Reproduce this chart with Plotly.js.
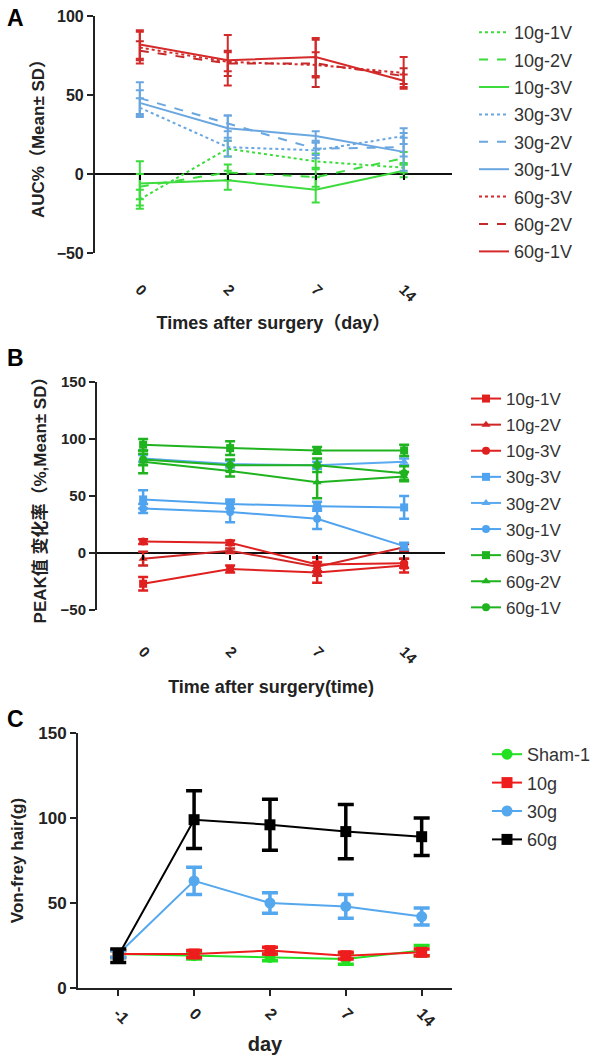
<!DOCTYPE html>
<html>
<head>
<meta charset="utf-8">
<script src="https://cdn.plot.ly/plotly-3.0.1.min.js"></script>
<style>html,body{margin:0;padding:0;background:#fff;}#chart{width:603px;height:1061px;}</style>
</head>
<body>
<div id="chart"></div>
<script>
// ---------- Panel A data (AUC%, Mean ± SD) ----------
const daysA = ['0', '2', '7', '14'];
const namesA = ['10g-1V', '10g-2V', '10g-3V', '30g-3V', '30g-2V', '30g-1V', '60g-3V', '60g-2V', '60g-1V'];
const aucMeans = [
  [-16, 16, 8, 4],
  [-8, 1, -2, 10],
  [-6, -4, -10, 2],
  [42, 17, 15, 24],
  [48, 32, 16, 17],
  [45, 29, 24, 14],
  [80, 71, 69, 64],
  [78, 70, 70, 62],
  [82, 72, 74, 59]
];
const aucSD = [
  [6, 5, 5, 3],
  [8, 5, 6, 4],
  [14, 6, 8, 4],
  [6, 6, 5, 5],
  [10, 5, 4, 6],
  [8, 8, 3, 12],
  [10, 6, 8, 10],
  [6, 8, 15, 5],
  [9, 16, 12, 4]
];

// ---------- Panel B data (PEAK change %, Mean ± SD) ----------
const daysB = ['0', '2', '7', '14'];
const namesB = ['10g-1V', '10g-2V', '10g-3V', '30g-3V', '30g-2V', '30g-1V', '60g-3V', '60g-2V', '60g-1V'];
const peakMeans = [
  [-27, -14, -17, -11],
  [-5, 2, -12, 5],
  [10, 9, -10, -9],
  [47, 43, 41, 40],
  [83, 78, 77, 80],
  [39, 36, 30, 6],
  [95, 92, 90, 90],
  [80, 72, 62, 67],
  [82, 77, 77, 70]
];
const peakSD = [
  [6, 3, 9, 6],
  [6, 2, 8, 3],
  [2, 2, 6, 4],
  [8, 4, 4, 10],
  [3, 3, 3, 3],
  [4, 9, 9, 3],
  [5, 6, 3, 5],
  [10, 5, 14, 4],
  [5, 5, 6, 6]
];

// ---------- Panel C data (Von-frey hair, g) ----------
const daysC = ['-1', '0', '2', '7', '14'];
const namesC = ['Sham-1', '10g', '30g', '60g'];
const vfMeans = [
  [20, 19, 18, 17, 22],
  [20, 20, 22, 19, 21],
  [20, 63, 50, 48, 42],
  [19, 99, 96, 92, 89]
];
const vfSD = [
  [2, 2, 2, 3, 3],
  [2, 2, 2, 2, 2],
  [2, 8, 6, 7, 5],
  [4, 17, 15, 16, 11]
];

// ---------- styles ----------
const colA = ['#3ddc3d', '#3ddc3d', '#3ddc3d', '#6aa6e0', '#6aa6e0', '#6aa6e0', '#d42a2a', '#c42a2a', '#d42a2a'];
const dashA = ['dot', 'dash', 'solid', 'dot', 'dash', 'solid', 'dot', 'dash', 'solid'];
const colB = ['#e01f1f', '#d02525', '#e01f1f', '#4fa3ef', '#5aaaf0', '#4fa3ef', '#1fb31f', '#1fb31f', '#1fb31f'];
const symB = ['square', 'triangle-up', 'circle', 'square', 'triangle-up', 'circle', 'square', 'triangle-up', 'circle'];
const colC = ['#22e022', '#ee1c1c', '#55a8ee', '#000000'];
const symC = ['circle', 'square', 'circle', 'square'];

const FONT = 'Arial, "Liberation Sans", "Noto Sans CJK SC", sans-serif';
const traces = [];

namesA.forEach((n, i) => {
  traces.push({
    type: 'scatter', mode: 'lines', name: n, x: daysA, y: aucMeans[i],
    xaxis: 'x', yaxis: 'y', legend: 'legend', legendgroup: 'A' + i,
    line: {color: colA[i], width: 2, dash: dashA[i]},
    error_y: {type: 'data', array: aucSD[i], visible: true, color: colA[i], thickness: 2, width: 4}
  });
});
namesB.forEach((n, i) => {
  traces.push({
    type: 'scatter', mode: 'lines+markers', name: n, x: daysB, y: peakMeans[i],
    xaxis: 'x2', yaxis: 'y2', legend: 'legend2', legendgroup: 'B' + i,
    line: {color: colB[i], width: 2},
    marker: {color: colB[i], symbol: symB[i], size: 8},
    error_y: {type: 'data', array: peakSD[i], visible: true, color: colB[i], thickness: 2.5, width: 5}
  });
});
namesC.forEach((n, i) => {
  traces.push({
    type: 'scatter', mode: 'lines+markers', name: n, x: daysC, y: vfMeans[i],
    xaxis: 'x3', yaxis: 'y3', legend: 'legend3', legendgroup: 'C' + i,
    line: {color: colC[i], width: 2},
    marker: {color: colC[i], symbol: symC[i], size: 11},
    error_y: {type: 'data', array: vfSD[i], visible: true, color: colC[i], thickness: 3.5, width: 8}
  });
});

const tickFontX = {family: FONT, size: 15, color: '#222', weight: 'bold'};

function yAx(domain, range, tv, title, tsize, fsize, standoff) {
  return {
    domain: domain, range: range, tickvals: tv, showgrid: false,
    showline: true, linewidth: 2, linecolor: '#222', ticks: 'outside', ticklen: 6, tickwidth: 2, tickcolor: '#222',
    tickfont: {family: FONT, size: fsize, color: '#222', weight: 'bold'},
    title: {text: title, font: {family: FONT, size: tsize, color: '#222', weight: 'bold'}, standoff: standoff},
    fixedrange: true
  };
}

const legendBase = {xanchor: 'left', yanchor: 'top', bgcolor: 'rgba(0,0,0,0)', itemwidth: 30, itemclick: false};

const layout = {
  width: 603, height: 1061,
  margin: {l: 0, r: 0, t: 0, b: 0},
  paper_bgcolor: '#fff', plot_bgcolor: '#fff',
  showlegend: true,
  xaxis: {
    domain: [0.1575, 0.7496], anchor: 'free', position: 1 - 174 / 1061,
    type: 'category', range: [-0.51, 3.55], showgrid: false, showline: false, zeroline: false,
    ticks: 'outside', ticklen: 5, tickwidth: 2, tickcolor: '#000', tickangle: 45,
    ticklabelstandoff: 95, tickfont: tickFontX,
    title: {text: 'Times after surgery（day）', font: {family: FONT, size: 18, color: '#222', weight: 'bold'}, standoff: 12}
  },
  yaxis: Object.assign(yAx([1 - 253 / 1061, 1 - 16 / 1061], [-50, 100], [-50, 0, 50, 100], 'AUC%（Mean± SD）', 17, 16, 8),
    {anchor: 'x', zeroline: true, zerolinecolor: '#111', zerolinewidth: 2}),
  xaxis2: {
    domain: [0.1609, 0.738], anchor: 'free', position: 1 - 554 / 1061,
    type: 'category', range: [-0.53, 3.47], showgrid: false, showline: false, zeroline: false,
    ticks: 'outside', ticklen: 5, tickwidth: 2, tickcolor: '#000', tickangle: 45,
    ticklabelstandoff: 77, tickfont: tickFontX,
    title: {text: 'Time after surgery(time)', font: {family: FONT, size: 18, color: '#222', weight: 'bold'}, standoff: 14}
  },
  yaxis2: Object.assign(yAx([1 - 610 / 1061, 1 - 382 / 1061], [-50, 150], [-50, 0, 50, 100, 150], 'PEAK值 变化率（%,Mean± SD）', 17, 15, 10),
    {anchor: 'x2', zeroline: true, zerolinecolor: '#111', zerolinewidth: 2}),
  xaxis3: {
    domain: [0.1294, 0.7496], anchor: 'y3',
    type: 'category', range: [-0.53, 4.4], showgrid: false, showline: true, linewidth: 2, linecolor: '#222', zeroline: false,
    ticks: 'outside', ticklen: 6, tickwidth: 2, tickcolor: '#222', tickangle: 45,
    ticklabelstandoff: 2, tickfont: {family: FONT, size: 16, color: '#222', weight: 'bold'},
    title: {text: 'day', font: {family: FONT, size: 20, color: '#222', weight: 'bold'}, standoff: 8}
  },
  yaxis3: Object.assign(yAx([1 - 988 / 1061, 1 - 733 / 1061], [0, 150], [0, 50, 100, 150], 'Von-frey hair(g)', 17, 17, 10),
    {anchor: 'x3', zeroline: false}),
  legend: Object.assign({}, legendBase, {x: 474 / 603, y: 1 - 14 / 1061, tracegroupgap: 1,
    font: {family: FONT, size: 18, color: '#333'}}),
  legend2: Object.assign({}, legendBase, {x: 466 / 603, y: 1 - 381 / 1061, tracegroupgap: 1,
    font: {family: FONT, size: 17, color: '#333'}}),
  legend3: Object.assign({}, legendBase, {x: 487 / 603, y: 1 - 736 / 1061, tracegroupgap: 2,
    font: {family: FONT, size: 18, color: '#333'}}),
  annotations: [
    {text: 'A', x: 5 / 603, y: 1 - 3 / 1061, xref: 'paper', yref: 'paper', xanchor: 'left', yanchor: 'top', showarrow: false,
      font: {family: FONT, size: 23, color: '#000', weight: 'bold'}},
    {text: 'B', x: 5 / 603, y: 1 - 343 / 1061, xref: 'paper', yref: 'paper', xanchor: 'left', yanchor: 'top', showarrow: false,
      font: {family: FONT, size: 23, color: '#000', weight: 'bold'}},
    {text: 'C', x: 5 / 603, y: 1 - 704 / 1061, xref: 'paper', yref: 'paper', xanchor: 'left', yanchor: 'top', showarrow: false,
      font: {family: FONT, size: 23, color: '#000', weight: 'bold'}}
  ]
};

Plotly.newPlot('chart', traces, layout, {displayModeBar: false, staticPlot: true});
</script>
</body>
</html>
